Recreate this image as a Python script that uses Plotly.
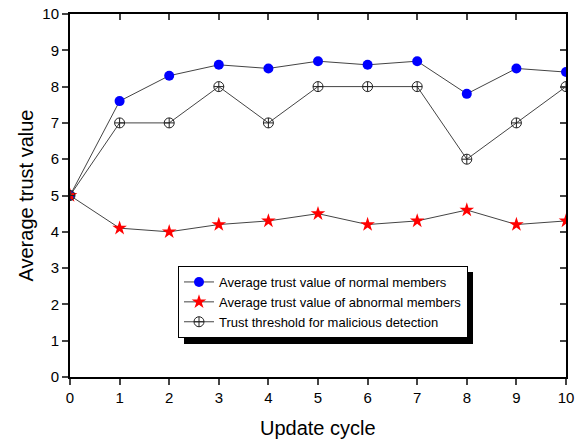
import plotly.graph_objects as go

cycles = [0, 1, 2, 3, 4, 5, 6, 7, 8, 9, 10]
normal = [5, 7.6, 8.3, 8.6, 8.5, 8.7, 8.6, 8.7, 7.8, 8.5, 8.4]
abnormal = [5, 4.1, 4.0, 4.2, 4.3, 4.5, 4.2, 4.3, 4.6, 4.2, 4.3]
threshold = [5, 7, 7, 8, 7, 8, 8, 8, 6, 7, 8]

names = ["Average trust value of normal members",
         "Average trust value of abnormal members",
         "Trust threshold for malicious detection"]
x_title = "Update cycle"
y_title = "Average trust value"

line_col = "#444444"
fig = go.Figure()
fig.add_trace(go.Scatter(x=cycles, y=normal, name=names[0], mode="lines+markers",
                         line=dict(color=line_col, width=1),
                         marker=dict(symbol="circle", size=10, color="#0000ff")))
fig.add_trace(go.Scatter(x=cycles, y=abnormal, name=names[1], mode="lines+markers",
                         line=dict(color=line_col, width=1),
                         marker=dict(symbol="star", size=11, color="#ff0000", line=dict(width=0))))
fig.add_trace(go.Scatter(x=cycles, y=threshold, name=names[2], mode="lines+markers",
                         line=dict(color=line_col, width=1),
                         marker=dict(symbol="circle-cross-open", size=10, color="#222222",
                                     line=dict(width=1, color="#222222"))))
# invisible trace for top/right inward ticks
fig.add_trace(go.Scatter(x=[0], y=[0], xaxis="x2", yaxis="y2", showlegend=False,
                         mode="markers", marker=dict(opacity=0), hoverinfo="skip"))

font = "Liberation Sans, Arial, sans-serif"
L, R, T, B = 70, 16, 14, 64
PW, PH = 582 - L - R, 441 - T - B


def px(xp):
    return (xp - L) / PW


def py(yp):
    return (441 - B - yp) / PH


axis_common = dict(range=[0, 10], tickwidth=1.5, ticklen=6, showgrid=False, zeroline=False,
                   showline=True, linecolor="black", linewidth=2, automargin=False)

leg_x0, leg_y0 = 178, 266
fig.update_layout(
    width=582, height=441,
    margin=dict(l=L, r=R, t=T, b=B, autoexpand=False),
    paper_bgcolor="white", plot_bgcolor="white",
    font=dict(family=font, color="black"),
    xaxis=dict(tickvals=cycles, ticks="outside", tickfont=dict(size=15), **axis_common),
    yaxis=dict(tickvals=list(range(11)), ticks="outside", tickfont=dict(size=15), **axis_common),
    xaxis2=dict(tickvals=cycles, ticks="inside", overlaying="x", side="top",
                showticklabels=False, **axis_common),
    yaxis2=dict(tickvals=list(range(11)), ticks="inside", overlaying="y", side="right",
                showticklabels=False, **axis_common),
    showlegend=True,
    legend=dict(x=px(leg_x0), y=py(leg_y0), xanchor="left", yanchor="top",
                bgcolor="white", bordercolor="black", borderwidth=1,
                font=dict(size=13, family=font), tracegroupgap=0, itemwidth=30),
    shapes=[dict(type="rect", xref="paper", yref="paper",
                 x0=px(184), x1=px(473),
                 y0=py(344), y1=py(272),
                 fillcolor="black", line=dict(width=0), layer="above")],
    annotations=[
        dict(text=x_title, xref="paper", yref="paper", x=0.5, y=py(428),
             xanchor="center", yanchor="middle", showarrow=False, font=dict(size=20)),
        dict(text=y_title, xref="paper", yref="paper", x=px(25), y=0.5,
             xanchor="center", yanchor="middle", showarrow=False, textangle=-90,
             font=dict(size=20)),
    ],
)
fig.write_html("out.html")
